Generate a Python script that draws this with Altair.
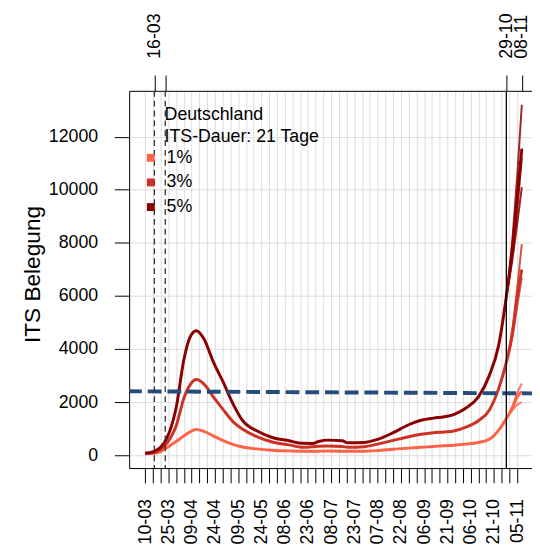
import altair as alt
import pandas as pd

FONT = "Liberation Sans"
START = pd.Timestamp("2020-03-10")

# ---- data ----
dates = ["2020-03-10", "2020-03-13", "2020-03-16", "2020-03-20", "2020-03-24", "2020-03-27",
         "2020-03-30", "2020-04-04", "2020-04-08", "2020-04-12", "2020-04-17", "2020-04-23",
         "2020-04-29", "2020-05-06", "2020-05-12", "2020-05-21", "2020-05-31", "2020-06-11",
         "2020-06-19", "2020-06-26", "2020-06-30", "2020-07-06", "2020-07-15", "2020-07-19",
         "2020-07-29", "2020-08-07", "2020-08-17", "2020-08-27", "2020-09-04", "2020-09-12",
         "2020-09-19", "2020-09-25", "2020-10-03", "2020-10-11", "2020-10-18", "2020-10-24",
         "2020-10-29"]

scenarios = ["1%", "3%", "5%"]
colors = ["#FF6347", "#CC3326", "#8B0000"]

vals_1 = [60, 65, 75, 150, 280, 400, 520, 730, 880, 975, 900, 730, 560, 400, 310, 240, 190, 165,
          150, 150, 155, 160, 155, 150, 155, 175, 230, 270, 300, 330, 360, 380, 420, 480, 600, 940,
          1380]
vals_3 = [75, 85, 110, 220, 450, 720, 1100, 2150, 2650, 2850, 2680, 2200, 1750, 1250, 980, 700,
          500, 390, 300, 320, 340, 350, 330, 300, 320, 420, 560, 700, 790, 850, 880, 915, 1060,
          1300, 1700, 2500, 3500]
vals_5 = [75, 100, 150, 300, 650, 1100, 1780, 3600, 4450, 4690, 4380, 3520, 2800, 1900, 1300, 920,
          670, 545, 450, 445, 520, 570, 545, 470, 480, 600, 850, 1150, 1320, 1400, 1450, 1530, 1780,
          2200, 3000, 4130, 5980]

# end of the period: several projection runs per scenario
fan_dates = ["2020-10-29", "2020-11-02", "2020-11-05", "2020-11-08"]
fan_1 = {"main": [1380, 1800, 2200, 2400], "a": [1380, 1850, 2350, 2700], "b": [1380, 1700, 1900, 2000]}
fan_3 = {"main": [3500, 4600, 5980, 7000], "a": [3500, 4800, 6300, 7950], "b": [3500, 4500, 5600, 6700]}
fan_5 = {"main": [5980, 7840, 9690, 11550], "a": [5980, 8200, 10500, 13200],
         "b": [5980, 7600, 9200, 11200], "c": [5980, 7400, 8700, 10100]}

capacity_dates = ["2020-02-28", "2020-11-16"]
capacity_vals = [2410, 2330]

dashed_dates = ["2020-03-16", "2020-03-23"]
solid_dates = ["2020-10-29"]

x_tick_labels = ["10-03", "25-03", "09-04", "24-04", "09-05", "24-05", "08-06", "23-06", "08-07",
                 "23-07", "07-08", "22-08", "06-09", "21-09", "06-10", "21-10", "05-11"]
top_tick_dates = ["2020-03-16", "2020-03-23", "2020-10-29", "2020-11-08"]
top_tick_labels = ["16-03", "", "29-10", "08-11"]
y_ticks = [0, 2000, 4000, 6000, 8000, 10000, 12000]

legend_title = "Deutschland\nITS-Dauer: 21 Tage"


def to_days(lst):
    return [(pd.Timestamp(d) - START).days for d in lst]


main_rows, fan_rows = [], []
for s, vals, fan in zip(scenarios, [vals_1, vals_3, vals_5], [fan_1, fan_3, fan_5]):
    for d, v in zip(to_days(dates), vals):
        main_rows.append({"day": d, "value": v, "scenario": s})
    for d, v in zip(to_days(fan_dates)[1:], fan["main"][1:]):
        main_rows.append({"day": d, "value": v, "scenario": s})
    for run, fv in fan.items():
        if run == "main":
            continue
        for d, v in zip(to_days(fan_dates), fv):
            fan_rows.append({"day": d, "value": v, "scenario": s, "run": s + run})
main_df = pd.DataFrame(main_rows)
fan_df = pd.DataFrame(fan_rows)
cap_df = pd.DataFrame({"day": to_days(capacity_dates), "value": capacity_vals})
dashed_df = pd.DataFrame({"day": to_days(dashed_dates)})
solid_df = pd.DataFrame({"day": to_days(solid_dates)})
title_df = pd.DataFrame({"t": [legend_title]})

step = 15
tick_days = list(range(0, step * (len(x_tick_labels) - 1) + 1, 5))
label_arr = "[" + ",".join("'%s'" % l for l in x_tick_labels) + "]"
bottom_expr = "datum.value %% %d == 0 ? %s[datum.value / %d] : ''" % (step, label_arr, step)

top_days = to_days(top_tick_dates)
top_expr = "''"
for d, l in reversed(list(zip(top_days, top_tick_labels))):
    top_expr = "datum.value == %d ? '%s' : (%s)" % (d, l, top_expr)

xscale = alt.Scale(domain=[-10.29, 249.56], nice=False, zero=False)
yscale = alt.Scale(domain=[-482, 13725], nice=False, zero=False)
cscale = alt.Scale(domain=scenarios, range=colors)

common_axis = dict(labelFont=FONT, labelFontSize=18, labelColor="black", tickColor="black",
                   domainColor="black", domainWidth=1, tickWidth=1, labelOverlap=False,
                   labelFlush=False)

bottom_axis = alt.Axis(orient="bottom", values=tick_days, labelExpr=bottom_expr, labelAngle=270,
                       labelPadding=16, tickSize=15, grid=True, gridColor="#dcdcdc", gridWidth=1,
                       title=None, **common_axis)
top_axis = alt.Axis(orient="top", values=top_days, labelExpr=top_expr, labelAngle=270,
                    labelPadding=17, tickSize=16, grid=False, title=None, **common_axis)
y_axis = alt.Axis(orient="left", values=y_ticks, format="d", tickSize=15, labelPadding=17, grid=True,
                  gridColor="#dcdcdc", gridWidth=1, title="ITS Belegung", titleFont=FONT,
                  titleFontSize=23, titleFontWeight="normal", titleColor="black", titleX=-86,
                  titleY=186, **common_axis)

Y = alt.Y("value:Q", scale=yscale, axis=y_axis)

main = alt.Chart(main_df).mark_line(strokeWidth=3, clip=True, interpolate="monotone").encode(
    x=alt.X("day:Q", scale=xscale, axis=bottom_axis),
    y=Y,
    color=alt.Color("scenario:N", scale=cscale,
                    legend=alt.Legend(orient="none", legendX=13, legendY=59, title=None,
                                      symbolType="square", symbolSize=16, symbolStrokeWidth=4,
                                      labelFont=FONT, labelFontSize=18, labelColor="black",
                                      labelOffset=7, rowPadding=5, padding=0)),
)

fan = alt.Chart(fan_df).mark_line(strokeWidth=2, opacity=0.85, clip=True, interpolate="monotone").encode(
    x=alt.X("day:Q", scale=xscale, axis=None),
    y=Y,
    color=alt.Color("scenario:N", scale=cscale, legend=None),
    detail="run:N",
)

cap = alt.Chart(cap_df).mark_line(color="#264b7d", strokeWidth=4, strokeDash=[14, 6], clip=True).encode(
    x=alt.X("day:Q", scale=xscale, axis=None),
    y=Y,
)

dashed = alt.Chart(dashed_df).mark_rule(color="#333333", strokeWidth=1.3, strokeDash=[6, 4]).encode(
    x=alt.X("day:Q", scale=xscale, axis=top_axis),
)

solid = alt.Chart(solid_df).mark_rule(color="black", strokeWidth=1.3).encode(
    x=alt.X("day:Q", scale=xscale, axis=None),
)

txt = alt.Chart(title_df).mark_text(align="left", baseline="alphabetic", font=FONT, fontSize=18,
                                    lineBreak="\n", lineHeight=22, color="black").encode(
    x=alt.value(36), y=alt.value(30), text="t:N",
)

chart = alt.layer(main, fan, cap, dashed, solid, txt).resolve_axis(x="independent").properties(
    width=409, height=383,
    padding={"left": 123, "top": 80, "right": 0, "bottom": 74},
    autosize=alt.AutoSizeParams(type="none"),
).configure_view(stroke=None)

chart.save("out.html", embed_options={"renderer": "svg", "actions": False})
